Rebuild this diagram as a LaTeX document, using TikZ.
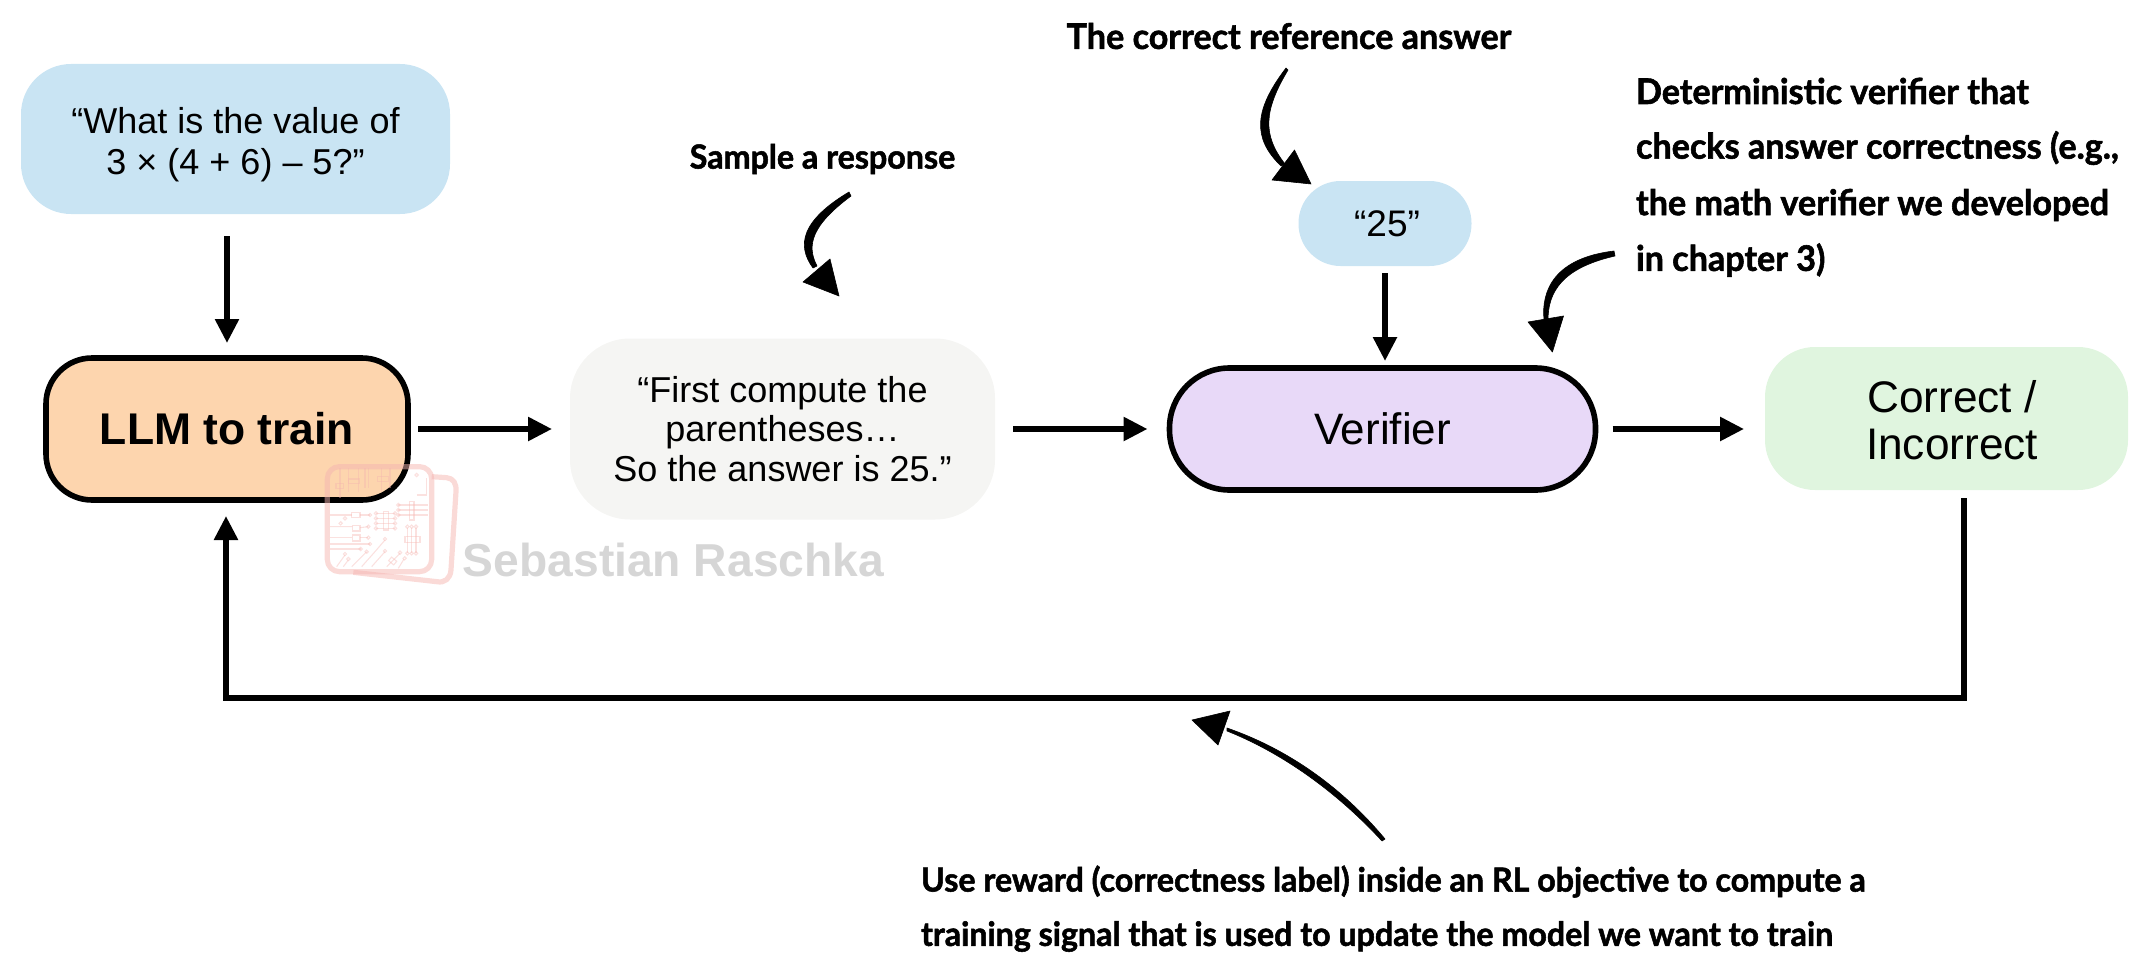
\documentclass[tikz,border=0pt]{standalone}
\usepackage{fontspec}
\usetikzlibrary{arrows.meta}
\setmainfont{Liberation Sans}
\newfontfamily\annotfont[FakeStretch=0.97,FakeBold=1.6]{Lato}
\definecolor{qblue}{HTML}{C9E4F3}
\definecolor{llmorange}{HTML}{FDD5AE}
\definecolor{respgray}{HTML}{F5F5F3}
\definecolor{verpurple}{HTML}{E8D9F8}
\definecolor{corgreen}{HTML}{E0F5DF}
\definecolor{wmgray}{HTML}{D6D6D6}
\definecolor{wmpink}{HTML}{F5B5B0}
\tikzset{
  x=0.5pt,y=-0.5pt,
  boxnode/.style={shape=rectangle,inner sep=0pt,outer sep=0pt,align=center,text=black},
  arr/.style={draw=black,line width=2.8pt,-{Triangle[length=12pt,width=11.5pt]}},
  handfill/.style={fill=black,draw=black,line width=0.3pt,line join=round},
  annot/.style={inner sep=0pt,outer sep=0pt,text=black,font=\annotfont\bfseries\fontsize{17.6}{28}\selectfont,align=left},
  annotsmall/.style={annot,font=\annotfont\bfseries\fontsize{16.6}{28}\selectfont},
  logoline/.style={draw=wmpink,line width=0.55pt,opacity=0.4},
  logoedge/.style={draw=wmpink,line width=2.6pt,opacity=0.5,line join=round}
}
\begin{document}
\begin{tikzpicture}
\useasboundingbox (0,0) rectangle (2150,974);
% boxes
\node[boxnode,fill=qblue,rounded corners=25pt,minimum width=214.5pt,minimum height=75pt,font=\fontsize{18}{20.6}\selectfont] (q) at (235.5,139) {\rule{0pt}{18.5pt}“What is the value of\\3 × (4 + 6) – 5?”};
\node[boxnode,fill=llmorange,draw=black,line width=2.8pt,rounded corners=23pt,minimum width=181pt,minimum height=71pt,font=\bfseries\fontsize{22.2}{25}\selectfont] (llm) at (227,429) {LLM to train};
\node[boxnode,fill=respgray,rounded corners=30pt,minimum width=212.5pt,minimum height=90.5pt,font=\fontsize{18}{19.8}\selectfont] (resp) at (782.5,429) {“First compute the\\parentheses…\\So the answer is 25.”};
\node[boxnode,fill=verpurple,draw=black,line width=2.8pt,rounded corners=30pt,minimum width=213pt,minimum height=61pt,font=\fontsize{22}{25}\selectfont] (ver) at (1382.5,429) {Verifier};
\node[boxnode,fill=qblue,rounded corners=21pt,minimum width=86.5pt,minimum height=42.5pt,font=\fontsize{18.5}{20}\selectfont] (ans) at (1385,223.5) {\hspace*{2pt}“25”};
\node[boxnode,fill=corgreen,rounded corners=25pt,minimum width=181.5pt,minimum height=71.5pt,font=\fontsize{22.1}{23.4}\selectfont] (cor) at (1946.5,418.5) {\hspace*{5.5pt}\rule{0pt}{18pt}Correct /\\\hspace*{5.5pt}Incorrect};
% watermark
\begin{scope}[shift={(320,455)},scale=0.3333]
\draw[logoedge] (335,65) -- (380,68) .. controls (400,70) and (410,85) .. (408,110) -- (393,345) .. controls (391,370) and (375,385) .. (350,380) -- (100,352);
\draw[logoedge,rounded corners=6pt] (22,35) rectangle (335,350);
% top components
\foreach \xa/\ya in {60/130,85/110,115/110,135/100,145/100,185/110,210/100}{\draw[logoline] (\xa,40) -- (\xa,\ya);}
\draw[logoline] (48,85) rectangle (70,100);
\draw[logoline] (85,72) rectangle (118,85);
\draw[logoline] (172,65) rectangle (205,80);
% right component
\foreach \yy in {150,165,180}{\draw[logoline] (235,\yy) -- (325,\yy);\draw[logoline] (235,\yy) circle (5);}
\draw[logoline] (268,140) rectangle (282,195);
\draw[logoline] (290,120) -- (320,120) -- (320,70);
\draw[logoline] (290,60) circle (5);
% centre component
\foreach \yy in {175,190,205,220}{\draw[logoline] (168,\yy) -- (225,\yy);\draw[logoline] (168,\yy) circle (5);\draw[logoline] (225,\yy) circle (5);}
\draw[logoline] (190,170) rectangle (205,225);
% left traces
\draw[logoline] (30,180) -- (95,180) (120,180) -- (150,180);
\draw[logoline] (95,172) rectangle (120,188);
\draw[logoline] (30,215) -- (97,215) (120,218) -- (145,215);
\draw[logoline] (97,212) rectangle (120,228);
\draw[logoline] (30,248) -- (97,248) (120,248) -- (145,248);
\draw[logoline] (97,240) rectangle (120,258);
\draw[logoline] (30,267) -- (150,267) (30,282) -- (122,282);
\foreach \xx/\yy in {150/180,145/215,145/248,150/267,122/282}{\draw[logoline] (\xx,\yy) circle (5);}
\draw[logoline] (75,190) circle (5) (62,205) circle (5);
% lower right component
\foreach \xx in {262,275,288}{\draw[logoline] (\xx,218) -- (\xx,295);\draw[logoline] (\xx,295) circle (5);\draw[logoline] (\xx,215) circle (5);}
\draw[logoline] (255,245) rectangle (300,262);
% bottom diagonals
\draw[logoline] (50,335) -- (75,300) (70,335) -- (85,315) (95,335) -- (140,290) (125,335) -- (165,290) -- (195,255) (155,335) -- (195,290) (200,335) -- (240,295) (235,340) -- (252,312);
\foreach \xx/\yy in {75/297,85/312,140/290,195/252,195/288,240/293,254/310}{\draw[logoline] (\xx,\yy) circle (5);}
\draw[logoline,rotate around={-40:(218,318)}] (208,311) rectangle (228,325);
\end{scope}
\node[inner sep=0pt,outer sep=0pt,text=wmgray,font=\bfseries\fontsize{23.1}{25}\selectfont] (wm) at (673.5,560) {Sebastian Raschka};
% straight connectors
\draw[arr] ([yshift=-11pt]q.south -| llm.north) -- ([yshift=7.5pt]llm.north);
\draw[arr,shorten <=5pt,shorten >=9pt] (llm.east) -- (llm.east -| resp.west);
\draw[arr,shorten <=9pt,shorten >=11pt] (resp.east) -- (resp.east -| ver.west);
\draw[arr,shorten <=3.5pt,shorten >=3.5pt] (ans.south) -- (ans.south |- ver.north);
\draw[arr,shorten <=8.5pt,shorten >=10.5pt] (ver.east) -- (ver.east -| cor.west);
\coordinate (fbstart) at (1964,498);
\coordinate (fbcorner) at (1964,698);
\coordinate (fbturn) at (226,698);
\draw[arr,line join=miter,shorten >=8pt] (fbstart) -- (fbcorner) -- (fbturn) -- (llm.south -| fbturn);
% annotations
\node[annot,anchor=center] (t1) at (1289,36) {The correct reference answer};
\node[annotsmall,anchor=center] (t2) at (822.5,159) {Sample a response};
\node[annot,anchor=west] (t3a) at (1636,91) {Deterministic verifier that};
\node[annot,anchor=west] (t3b) at (1636,148) {checks answer correctness (e.g.,};
\node[annot,anchor=west] (t3c) at (1636,205) {the math verifier we developed};
\node[annot,anchor=west] (t3d) at (1636,260) {in chapter 3)};
\node[annotsmall,anchor=west] (t4a) at (921,881.5) {Use reward (correctness label) inside an RL objective to compute a};
\node[annotsmall,anchor=west] (t4b) at (921,936.5) {training signal that is used to update the model we want to train};
% hand-drawn arrows
\fill[handfill] (1286,68) .. controls (1254,110) and (1252,138) .. (1281,166) -- (1285,164) .. controls (1262,135) and (1264,110) .. (1288,70) -- cycle;
\fill[handfill] (1294.5,150) -- (1272,180) -- (1311,184) -- cycle;
\fill[handfill] (849,192) .. controls (802,220) and (796,245) .. (813,268) -- (817,266) .. controls (806,245) and (812,225) .. (851,196) -- cycle;
\fill[handfill] (830,259) -- (803,282) -- (839,296) -- cycle;
\fill[handfill] (1614,251) .. controls (1555,258) and (1541,290) .. (1544,320) -- (1548,320) .. controls (1548,292) and (1562,268) .. (1615,256) -- cycle;
\fill[handfill] (1528,322) -- (1563.5,316) -- (1552.4,352) -- cycle;
\fill[handfill] (1385,839) .. controls (1340,785) and (1285,748) .. (1227,728) -- (1227,731) .. controls (1280,752) and (1335,790) .. (1382,841) -- cycle;
\fill[handfill] (1192,720) -- (1230,711) -- (1218,745) -- cycle;
\end{tikzpicture}
\end{document}
